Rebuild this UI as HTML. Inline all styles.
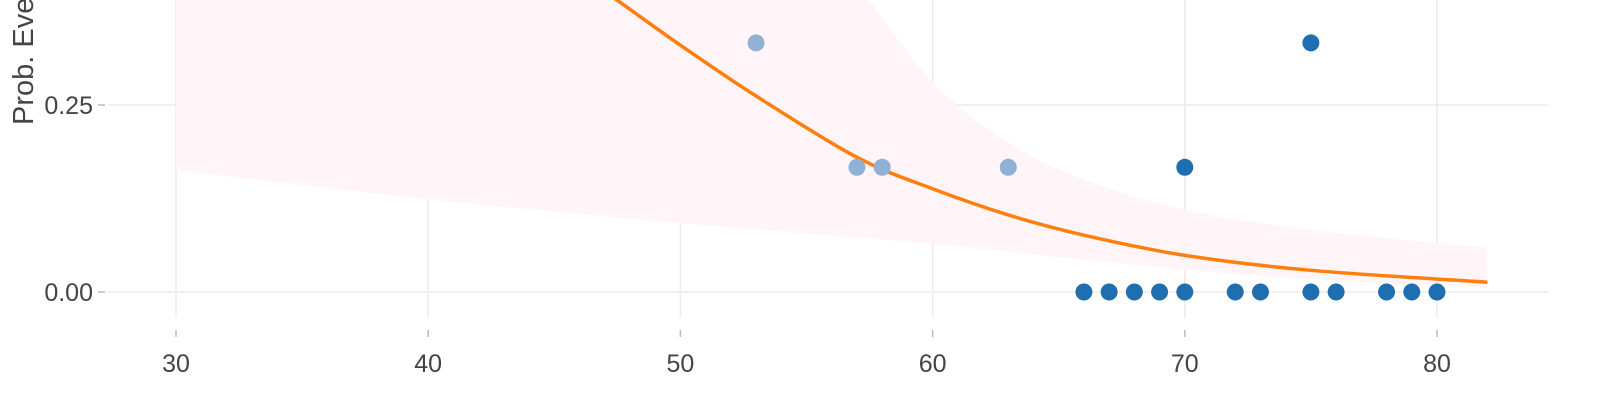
<!DOCTYPE html>
<html><head><meta charset="utf-8"><style>
body{margin:0;background:#fff;width:1600px;height:400px;overflow:hidden}
svg{display:block}
text{font-family:"Liberation Sans",sans-serif;fill:#444}
</style></head><body>
<svg id="chart" width="1600" height="400" viewBox="0 0 1600 400"></svg>
<script>
const xTicks=[30,40,50,60,70,80];
const yTicks=[0,0.25];
const yTickLabels=["0.00","0.25"];
const bandX=[30,40,50,55,57,60,63,66,70,75,82];
const bandUpper=[0.9,0.8,0.6,0.47,0.41,0.28,0.2,0.15,0.11,0.083,0.059];
const bandLower=[0.163,0.124,0.092,0.078,0.073,0.064,0.054,0.043,0.03,0.017,0.006];
const curveX=[45,47.5,50,53,57,60,63,66,70,75,82];
const curveY=[0.45,0.39,0.33,0.262,0.18,0.138,0.103,0.076,0.049,0.029,0.013];
const lightX=[53,57,58,63];
const lightY=[0.333,0.1667,0.1667,0.1667];
const darkX=[75,70,66,67,68,69,70,72,73,75,76,78,79,80];
const darkY=[0.333,0.1667,0,0,0,0,0,0,0,0,0,0,0,0];

const NS="http://www.w3.org/2000/svg";
const svg=document.getElementById('chart');
const X=v=>176+(v-30)*25.22;
const Y=v=>292-v*748;
function mk(t,a,p){const e=document.createElementNS(NS,t);for(const k in a)e.setAttribute(k,a[k]);(p||svg).appendChild(e);return e;}
function smooth(pts,start){
 let s=(start?'M':'L')+pts[0][0]+','+pts[0][1];
 for(let i=0;i<pts.length-1;i++){
  const p0=pts[Math.max(0,i-1)],p1=pts[i],p2=pts[i+1],p3=pts[Math.min(pts.length-1,i+2)];
  const c1=[p1[0]+(p2[0]-p0[0])/6,p1[1]+(p2[1]-p0[1])/6];
  const c2=[p2[0]-(p3[0]-p1[0])/6,p2[1]-(p3[1]-p1[1])/6];
  s+='C'+c1+' '+c2+' '+p2;
 }
 return s;
}
const defs=mk('defs',{});
const cp=mk('clipPath',{id:'plot'},defs);
mk('rect',{x:105,y:0,width:1445,height:330},cp);

xTicks.forEach(t=>{
 const g=mk('line',{x1:X(t),x2:X(t),y1:0,y2:318,stroke:'#ececec','stroke-width':1.5});
 
 
 const tk=mk('line',{x1:X(t),x2:X(t),y1:330,y2:337,stroke:'#bbb','stroke-width':1.5});
 
 
 const tx=mk('text',{x:X(t),y:372,'text-anchor':'middle','font-size':25});
 tx.textContent=t;
 
 
});
yTicks.forEach((t,i)=>{
 const g=mk('line',{x1:108,x2:1548,y1:Y(t),y2:Y(t),stroke:'#ececec','stroke-width':1.5});
 
 
 const tk=mk('line',{x1:98,x2:105,y1:Y(t),y2:Y(t),stroke:'#bbb','stroke-width':1.5});
 
 
 const tx=mk('text',{x:93,y:Y(t)+9,'text-anchor':'end','font-size':25});
 tx.textContent=yTickLabels[i];
 
 
});
const yt=mk('text',{x:0,y:0,'font-size':29,transform:'translate(33,125) rotate(-90)'});
yt.textContent='Prob. Event';



const up=bandX.map((v,i)=>[X(v),Y(bandUpper[i])]);
const lo=bandX.map((v,i)=>[X(v),Y(bandLower[i])]).reverse();
const band=mk('path',{d:smooth(up,true)+smooth(lo,false)+'Z',fill:'#fff4f7','clip-path':'url(#plot)'});



const cpts=curveX.map((v,i)=>[X(v),Y(curveY[i])]);
const line=mk('path',{d:smooth(cpts,true),fill:'none',stroke:'#ff7f0e','stroke-width':3.5,'clip-path':'url(#plot)'});



lightX.forEach((v,i)=>{
 const p=mk('circle',{cx:X(v),cy:Y(lightY[i]),r:8.5,fill:'#8eb1d4'});
 
 
});
darkX.forEach((v,i)=>{
 const p=mk('circle',{cx:X(v),cy:Y(darkY[i]),r:8.5,fill:'#1f6fb0'});
 
 
});
</script>
</body></html>
